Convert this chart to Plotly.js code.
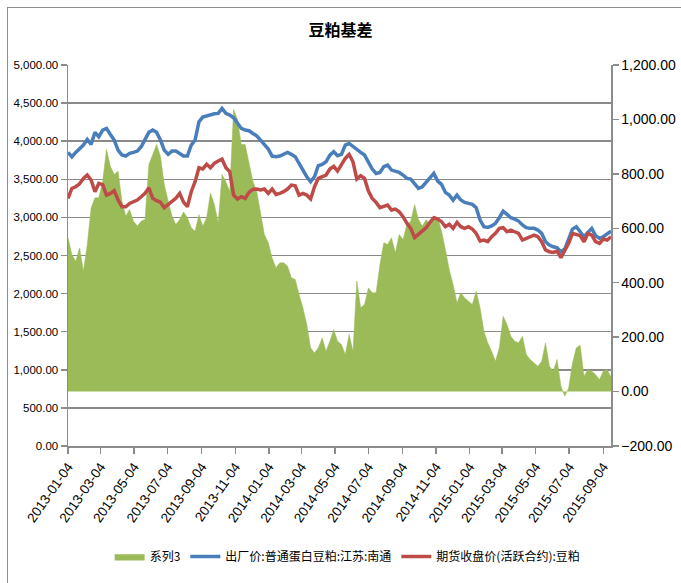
<!DOCTYPE html>
<html>
<head>
<meta charset="utf-8">
<script src="https://cdn.plot.ly/plotly-3.0.1.min.js"></script>
<style>
html,body{margin:0;padding:0;background:#fff;}
#wrap{position:relative;width:681px;height:583px;overflow:hidden;}
#chart{width:681px;height:583px;}
#frame{position:absolute;left:7px;top:7px;width:720px;height:620px;border-left:1.5px solid #8e8e8e;border-top:1.5px solid #8e8e8e;pointer-events:none;}
</style>
</head>
<body>
<div id="wrap"><div id="chart"></div><div id="frame"></div></div>
<script>
// weekly observation dates (Fridays) starting 2013-01-04, 142 weeks
const startDate = '2013-01-04';
const weekCount = 142;

// 出厂价:普通蛋白豆粕:江苏:南通 (left axis)
const spotPrice = [
3853,3796,3853,3905,3949,4023,3958,4116,4059,4146,
4168,4089,4015,3884,3818,3805,3840,3853,3870,3927,
4015,4116,4146,4116,4015,3884,3827,3870,3870,3840,
3805,3805,3949,4015,4255,4316,4334,4351,4360,4365,
4430,4365,4343,4308,4233,4168,4146,4137,4102,4071,
4015,3958,3897,3805,3796,3805,3827,3853,3827,3796,
3709,3621,3534,3469,3534,3678,3696,3730,3818,3862,
3809,3827,3949,3971,3927,3897,3853,3818,3730,3634,
3577,3590,3665,3687,3621,3608,3590,3556,3512,3503,
3446,3381,3402,3459,3503,3577,3477,3433,3328,3293,
3228,3293,3228,3197,3184,3171,3127,2965,2878,2869,
2887,2922,2996,3083,3040,2996,2978,2952,2900,2865,
2856,2856,2834,2790,2681,2637,2615,2602,2550,2585,
2716,2847,2878,2812,2746,2803,2856,2760,2725,2746,
2777,2821];

// 期货收盘价(活跃合约):豆粕 (left axis)
const futuresPrice = [
3249,3380,3402,3440,3512,3556,3490,3337,3446,3430,
3293,3315,3350,3230,3140,3140,3184,3206,3228,3271,
3315,3389,3250,3220,3200,3127,3170,3210,3250,3315,
3200,3140,3337,3468,3652,3636,3697,3652,3709,3740,
3766,3652,3600,3293,3241,3271,3249,3328,3367,3372,
3359,3372,3315,3372,3302,3315,3337,3372,3424,3415,
3293,3315,3293,3241,3402,3512,3534,3556,3636,3670,
3608,3697,3774,3827,3730,3503,3547,3512,3346,3249,
3197,3127,3140,3162,3097,3110,3075,3009,2922,2856,
2734,2778,2835,2865,2935,2996,2979,2944,2878,2909,
2856,2935,2878,2856,2878,2847,2790,2690,2703,2681,
2746,2790,2856,2865,2812,2834,2812,2790,2703,2725,
2746,2768,2746,2681,2572,2550,2541,2558,2471,2558,
2659,2790,2777,2760,2681,2790,2768,2681,2659,2716,
2703,2746];

// 系列3 (basis, right axis)
const basis = [
565,504,479,528,442,540,675,712,712,773,
890,828,798,810,700,645,669,626,608,626,
632,834,871,908,865,761,700,645,614,632,
660,640,602,589,650,608,638,730,687,620,
798,771,736,1037,1000,908,908,834,773,736,
651,577,547,491,455,473,473,461,418,412,
357,308,246,161,142,161,197,148,185,228,
185,173,136,210,148,406,308,320,381,363,
363,467,547,540,565,510,577,559,614,626,
687,632,608,632,614,645,640,589,522,448,
393,326,363,344,332,320,369,308,222,179,
148,111,161,277,246,203,185,179,203,136,
118,105,93,111,179,93,75,118,20,-17,
13,105,161,170,56,81,75,62,44,75,
81,54];

const tickDates = ['2013-01-04','2013-03-04','2013-05-04','2013-07-04','2013-09-04','2013-11-04',
'2014-01-04','2014-03-04','2014-05-04','2014-07-04','2014-09-04','2014-11-04',
'2015-01-04','2015-03-04','2015-05-04','2015-07-04','2015-09-04'];

const seriesNames = ['系列3','出厂价:普通蛋白豆粕:江苏:南通','期货收盘价(活跃合约):豆粕'];

const dates = [];
const t0 = Date.parse(startDate + 'T00:00:00Z');
for (let i = 0; i < weekCount; i++) {
  dates.push(new Date(t0 + i * 7 * 86400000).toISOString().slice(0, 10));
}

const grey = '#8c8c8c';

const traces = [
  {x: dates, y: basis, name: seriesNames[0], type: 'scatter', mode: 'lines',
   fill: 'tozeroy', fillcolor: '#9bbb59', line: {color: '#9bbb59', width: 0.5},
   yaxis: 'y', xaxis: 'x'},
  {x: dates, y: spotPrice, name: seriesNames[1], type: 'scatter', mode: 'lines',
   line: {color: '#4a7ebb', width: 3.5}, yaxis: 'y2', xaxis: 'x'},
  {x: dates, y: futuresPrice, name: seriesNames[2], type: 'scatter', mode: 'lines',
   line: {color: '#be4b48', width: 3.5}, yaxis: 'y2', xaxis: 'x'}
];

const layout = {
  width: 681, height: 583,
  margin: {l: 68, r: 70, t: 65, b: 137},
  paper_bgcolor: '#fff', plot_bgcolor: '#fff',
  showlegend: true,
  title: {text: '<b>豆粕基差</b>', x: 0.5, xref: 'container', xanchor: 'center',
          y: 1 - 30/583, yref: 'container', yanchor: 'middle',
          font: {family: 'Noto Sans CJK SC, sans-serif', size: 16, color: '#000'}},
  xaxis: {type: 'date', range: ['2013-01-04', '2015-09-18'],
          tickmode: 'array', tickvals: tickDates, ticktext: tickDates,
          tickangle: -55, tickfont: {family: 'Liberation Sans, Arial, sans-serif', size: 13.5, color: '#000'},
          showgrid: false, showline: true, linecolor: grey, linewidth: 1.5,
          ticks: 'outside', ticklen: 6, tickcolor: grey, tickwidth: 1.5, zeroline: false},
  yaxis: {range: [-200, 1200], dtick: 200, tick0: 0, side: 'right',
          tickformat: ',.2f', showgrid: false, zeroline: false,
          showline: true, linecolor: grey, linewidth: 1.5,
          ticks: 'outside', ticklen: 6, tickcolor: grey, tickwidth: 1.5,
          tickfont: {family: 'Liberation Sans, Arial, sans-serif', size: 14, color: '#000'}},
  yaxis2: {range: [0, 5000], dtick: 500, tick0: 0, side: 'left', overlaying: 'y',
           tickformat: ',.2f', showgrid: true, gridcolor: '#8a8a8a', gridwidth: 1.5,
           zeroline: false, showline: true, linecolor: grey, linewidth: 1.5,
           ticks: 'outside', ticklen: 6, tickcolor: grey, tickwidth: 1.5,
           tickfont: {family: 'Liberation Sans, Arial, sans-serif', size: 11.5, color: '#000'}},
  legend: {orientation: 'h', x: 0.515, xanchor: 'center', y: -0.29, yanchor: 'middle',
           font: {family: 'Noto Sans CJK SC, sans-serif', size: 12, color: '#000'},
           itemwidth: 30, traceorder: 'normal', bgcolor: 'rgba(0,0,0,0)'}
};

Plotly.newPlot('chart', traces, layout, {displayModeBar: false, staticPlot: true});
</script>
</body>
</html>
